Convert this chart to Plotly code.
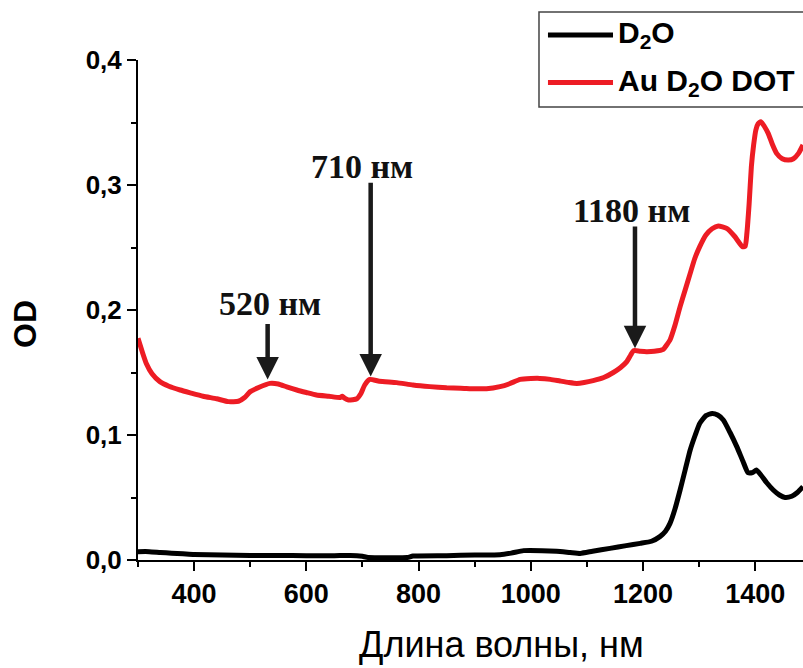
import plotly.graph_objects as go

# ---- data ----
wl_d2o = [300, 320, 340, 360, 380, 400, 450, 500, 550, 600,
          650, 690, 700, 710, 750, 780, 790, 850, 900, 945,
          965, 987, 1020, 1046, 1070, 1088, 1110, 1141, 1170, 1195,
          1215, 1230, 1240, 1248, 1257, 1266, 1275, 1284, 1293, 1301,
          1312, 1323, 1333, 1343, 1355, 1367, 1378, 1387, 1395, 1402,
          1410, 1420, 1432, 1443, 1453, 1465, 1475, 1485]
od_d2o = [0.0067, 0.0067, 0.006, 0.0055, 0.005, 0.0045, 0.004, 0.0037, 0.0036, 0.0035,
          0.0035, 0.0035, 0.003, 0.002, 0.0019, 0.002, 0.0032, 0.0035, 0.004, 0.0042,
          0.0055, 0.0075, 0.0075, 0.007, 0.006, 0.0053, 0.007, 0.0093, 0.0115, 0.0133,
          0.015, 0.0187, 0.023, 0.0293, 0.041, 0.056, 0.072, 0.088, 0.100, 0.1093,
          0.1155, 0.1173, 0.1160, 0.112, 0.102, 0.0907, 0.079, 0.0699, 0.070, 0.072,
          0.068, 0.062, 0.056, 0.052, 0.050, 0.051, 0.054, 0.0587]

wl_au = [300, 308, 315, 325, 339, 355, 375, 395, 416, 440,
         461, 479, 490, 500, 515, 535, 550, 565, 583, 600,
         618, 640, 660, 664, 668, 675, 690, 697, 704, 713,
         730, 761, 790, 820, 850, 875, 900, 921, 945, 962,
         981, 1000, 1016, 1035, 1052, 1068, 1082, 1095, 1111, 1130,
         1147, 1160, 1171, 1178, 1183, 1195, 1206, 1220, 1236, 1242,
         1248, 1257, 1266, 1275, 1284, 1292, 1301, 1312, 1323, 1334,
         1349, 1363, 1377, 1382, 1385, 1389, 1393, 1397, 1401, 1405,
         1410, 1416, 1423, 1430, 1438, 1448, 1459, 1468, 1477, 1485]
od_au = [0.1774, 0.166, 0.157, 0.149, 0.1427, 0.139, 0.136, 0.1335, 0.131, 0.129,
         0.1267, 0.127, 0.130, 0.1347, 0.138, 0.1413, 0.1408, 0.1385, 0.136, 0.134,
         0.132, 0.131, 0.130, 0.131, 0.1295, 0.128, 0.129, 0.133, 0.140, 0.1445,
         0.143, 0.1419, 0.140, 0.1387, 0.1378, 0.1375, 0.137, 0.137, 0.1387, 0.141,
         0.1445, 0.1452, 0.1453, 0.1445, 0.1432, 0.142, 0.1413, 0.142, 0.1435, 0.146,
         0.150, 0.154, 0.1587, 0.164, 0.1675, 0.167, 0.1667, 0.167, 0.1685, 0.172,
         0.176, 0.188, 0.2027, 0.216, 0.2293, 0.241, 0.2507, 0.260, 0.265, 0.2672,
         0.2653, 0.259, 0.2507, 0.251, 0.2613, 0.285, 0.3147, 0.332, 0.344, 0.349,
         0.3507, 0.347, 0.3413, 0.333, 0.3253, 0.321, 0.320, 0.321, 0.3253, 0.332]

series_names = ["D<sub>2</sub>O", "Au D<sub>2</sub>O DOT"]

x_tickvals = [400, 600, 800, 1000, 1200, 1400]
x_ticktext = ["400", "600", "800", "1000", "1200", "1400"]
y_tickvals = [0.0, 0.1, 0.2, 0.3, 0.4]
y_ticktext = ["0,0", "0,1", "0,2", "0,3", "0,4"]

# peak markers: label, arrow tip (x, y), arrow tail y, label position (x, y)
peak_labels = ["520 нм", "710 нм", "1180 нм"]
peak_tip_x = [531, 714.6, 1185.6]
peak_tip_y = [0.1445, 0.1468, 0.1695]
peak_tail_y = [0.190, 0.303, 0.268]
label_x = [535, 699, 1178.5]
label_y = [0.2056, 0.315, 0.280]

RED = "#ED1C24"
BLACK = "#000000"

fig = go.Figure()
fig.add_trace(go.Scatter(x=wl_d2o, y=od_d2o, mode="lines", name=series_names[0],
                         line=dict(color=BLACK, width=5, shape="spline", smoothing=0.5),
                         showlegend=False))
fig.add_trace(go.Scatter(x=wl_au, y=od_au, mode="lines", name=series_names[1],
                         line=dict(color=RED, width=5, shape="spline", smoothing=0.5),
                         showlegend=False))

annotations = []
for i in range(len(peak_labels)):
    annotations.append(dict(
        x=peak_tip_x[i], y=peak_tip_y[i], xref="x", yref="y",
        ax=peak_tip_x[i], ay=peak_tail_y[i], axref="x", ayref="y",
        text="", showarrow=True, arrowhead=2, arrowwidth=4.5, arrowsize=1.0,
        arrowcolor="#1a1a1a", standoff=0, startstandoff=0))
    annotations.append(dict(
        x=label_x[i], y=label_y[i], xref="x", yref="y", text=peak_labels[i],
        showarrow=False, xanchor="center", yanchor="middle",
        font=dict(family="Liberation Serif", size=34, color="#111111", weight="bold")))

# axis titles
annotations.append(dict(x=0.546, y=-0.168, xref="paper", yref="paper",
                        text="Длина волны, нм", showarrow=False,
                        xanchor="center", yanchor="middle",
                        font=dict(family="Liberation Sans", size=36, color="black")))
annotations.append(dict(x=-0.170, y=0.472, xref="paper", yref="paper",
                        text="OD", showarrow=False, textangle=-90,
                        xanchor="center", yanchor="middle",
                        font=dict(family="Liberation Sans", size=32, color="black", weight="bold")))

# manual legend
leg_y = [1.05, 0.955]
leg_colors = [BLACK, RED]
shapes = [dict(type="rect", xref="paper", yref="paper", x0=0.603, x1=1.2,
               y0=0.906, y1=1.096, line=dict(color="#444444", width=1.5),
               fillcolor="white", layer="above")]
for i in range(2):
    shapes.append(dict(type="line", xref="paper", yref="paper", x0=0.6165, x1=0.7143,
                       y0=leg_y[i], y1=leg_y[i], line=dict(color=leg_colors[i], width=5),
                       layer="above"))
    annotations.append(dict(x=0.7188, y=leg_y[i], xref="paper", yref="paper",
                            text=series_names[i], showarrow=False,
                            xanchor="left", yanchor="middle",
                            font=dict(family="Liberation Sans", size=30, color="black",
                                      weight="bold")))

fig.update_layout(
    width=803, height=668,
    margin=dict(l=138, r=0, t=60, b=108, pad=0),
    paper_bgcolor="white", plot_bgcolor="white",
    annotations=annotations, shapes=shapes,
    xaxis=dict(range=[300, 1485], showgrid=False, zeroline=False,
               showline=True, linewidth=2, linecolor="black",
               ticks="outside", ticklen=9, tickwidth=2, tickcolor="black",
               tickmode="array", tickvals=x_tickvals, ticktext=x_ticktext,
               tickfont=dict(family="Liberation Sans", size=27, color="black", weight="bold"),
               minor=dict(tick0=300, dtick=100, ticks="outside", ticklen=5,
                          tickwidth=2, tickcolor="black")),
    yaxis=dict(range=[0, 0.4], showgrid=False, zeroline=False,
               showline=True, linewidth=2, linecolor="black",
               ticks="outside", ticklen=9, tickwidth=2, tickcolor="black",
               tickmode="array", tickvals=y_tickvals, ticktext=y_ticktext,
               tickfont=dict(family="Liberation Sans", size=26, color="black", weight="bold"),
               minor=dict(tick0=0, dtick=0.05, ticks="outside", ticklen=5,
                          tickwidth=2, tickcolor="black")),
)

fig.write_html("out.html")
